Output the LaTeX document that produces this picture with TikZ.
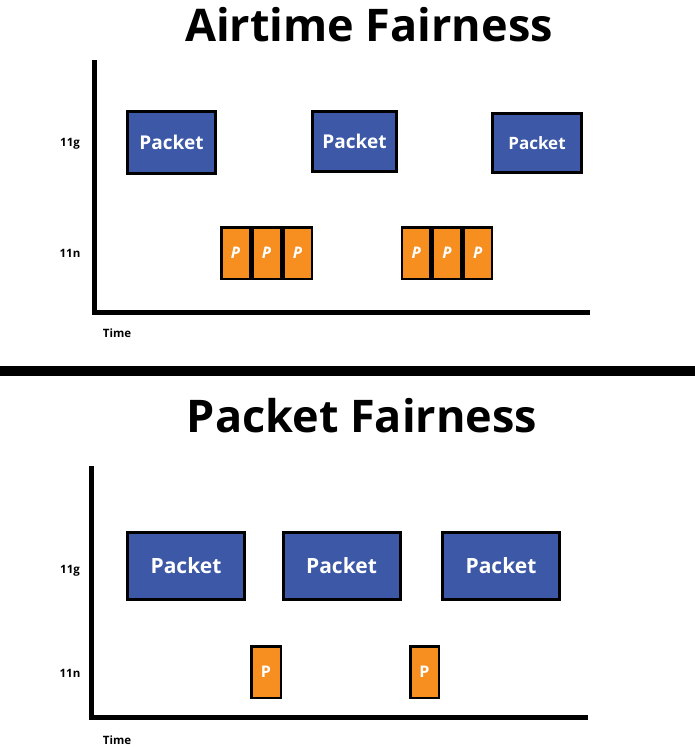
\documentclass[tikz,border=0pt]{standalone}
\usepackage{fontspec}
\setmainfont{Open Sans}
\definecolor{pblue}{RGB}{60,88,166}
\definecolor{porange}{RGB}{246,142,32}
\begin{document}
\begin{tikzpicture}[x=1pt,y=-1pt,
  pkt/.style={draw=black, line width=3pt, fill=pblue, text=white, inner sep=0pt, font=\bfseries\fontsize{19}{19}\selectfont},
  pp/.style={draw=black, line width=2.5pt, fill=porange, text=white, inner sep=0pt, minimum width=28.5pt, minimum height=51.5pt, font=\bfseries\fontsize{16}{16}\selectfont},
  ttl/.style={font=\bfseries\fontsize{45}{45}\selectfont},
  lab/.style={font=\bfseries\fontsize{11.5}{11.5}\selectfont},
  axis/.style={line width=5pt}]
\useasboundingbox (0,0) rectangle (695,747);
% ---------- Airtime fairness ----------
\node[ttl] (t1) at (369,25) {Airtime Fairness};
\coordinate (a1top) at (94.5,60);
\coordinate (a1corner) at (94.5,312);
\coordinate (a1end) at (590,312);
\draw[axis] (a1top) -- (a1corner) ++(-2.5,0) -- (a1end);
\node[lab] (g1) at (70,144) {11g};
\node[lab] (n1) at (70,253) {11n};
\node[lab] (time1) at (117,333) {Time};
\node[pkt, minimum width=88pt, minimum height=62pt] (pa1) at (171.5,142.5) {Packet};
\node[pkt, minimum width=84pt, minimum height=60pt] (pa2) at (354.5,141.5) {Packet};
\node[pkt, minimum width=89pt, minimum height=59pt, font=\bfseries\fontsize{17}{17}\selectfont] (pa3) at (537,143) {Packet};
\foreach \x/\n in {235.5/1,266.5/2,297.5/3,416.3/4,447/5,477.7/6}{
  \node[pp, font=\bfseries\itshape\fontsize{16}{16}\selectfont] (pa\n p) at (\x,253) {P};
}
% ---------- separator ----------
\fill (0,366) rectangle (695,376);
% ---------- Packet fairness ----------
\node[ttl] (t2) at (362,416) {Packet Fairness};
\coordinate (a2top) at (91.5,466);
\coordinate (a2corner) at (91.5,717.5);
\coordinate (a2end) at (588,717.5);
\draw[axis] (a2top) -- (a2corner) ++(-2.5,0) -- (a2end);
\node[lab] (g2) at (70,571) {11g};
\node[lab] (n2) at (70,673) {11n};
\node[lab] (time2) at (117,740) {Time};
\tikzset{pktb/.style={pkt, minimum width=117pt, minimum height=67pt, font=\bfseries\fontsize{21}{21}\selectfont}}
\node[pktb] (pb1) at (186,566) {Packet};
\node[pktb] (pb2) at (341.5,566) {Packet};
\node[pktb] (pb3) at (501,566) {Packet};
\node[pp, minimum width=29.5pt] (pb1p) at (266,672) {P};
\node[pp, minimum width=28.5pt] (pb2p) at (424.5,672) {P};
\end{tikzpicture}
\end{document}
